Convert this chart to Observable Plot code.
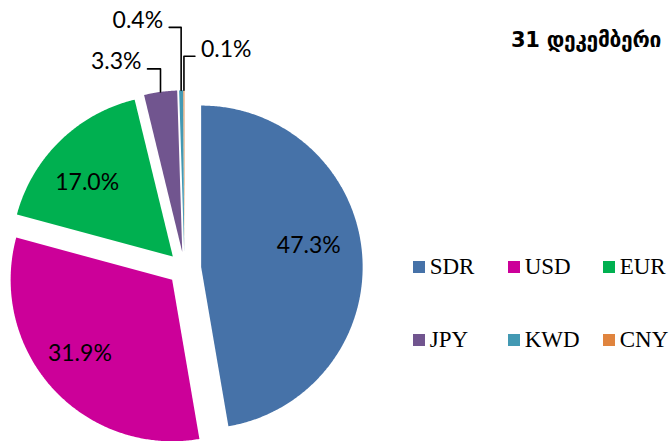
<!DOCTYPE html>
<html>
<head>
<meta charset="utf-8">
<script src="https://cdn.jsdelivr.net/npm/d3@7"></script>
<script src="https://cdn.jsdelivr.net/npm/@observablehq/plot@0.6"></script>
<style>
  html, body { margin: 0; padding: 0; background: #ffffff; }
  #wrap { position: relative; width: 670px; height: 441px; overflow: hidden; }
  #chart svg { display: block; }
  #title { position: absolute; right: 9px; top: 30px; font-family: "DejaVu Sans", sans-serif; font-weight: bold; font-size: 21px; letter-spacing: -0.3px; color: #000; white-space: nowrap; line-height: 1; }
  .lg { position: absolute; display: flex; align-items: center; font-family: "Liberation Serif", serif; font-size: 23px; color: #000; white-space: nowrap; }
  .lg span.sw { display: inline-block; width: 12px; height: 12px; margin-right: 5px; }
</style>
</head>
<body>
<div id="wrap">
  <div id="chart"></div>
  <div id="title"></div>
  <div id="legend"></div>
</div>
<script>
// ---- data ----
const names  = ["SDR", "USD", "EUR", "JPY", "KWD", "CNY"];
const shares = [47.3, 31.9, 17.0, 3.3, 0.4, 0.1];
const colors = ["#4672A8", "#CC0099", "#00B050", "#71558F", "#4399B3", "#E0843E"];
const title  = "31 დეკემბერი";

// ---- layout ----
const W = 670, H = 441;
const CX = 184, CY = 268, R = 161.5, EXPLODE = 16.7;
// inside labels: [angle nudge (deg), radius fraction]
const insideLayout = { SDR: [-6.5, 0.68], USD: [3.8, 0.73], EUR: [-5, 0.70] };
// outside labels: rise of the leader above the slice edge, horizontal run, side
const outsideLayout = {
  JPY: { rise: 23, run: 13, side: -1 },
  KWD: { rise: 63, run: 12, side: -1 },
  CNY: { rise: 34, run: 11, side: 1 }
};

const total = d3.sum(shares);
const rad = (deg) => deg * Math.PI / 180;
const pt = (c, r, a) => ({ x: c.x + r * Math.sin(a), y: c.y - r * Math.cos(a) });

let acc = 0;
const slices = names.map((name, i) => {
  const a0 = acc / total * 2 * Math.PI;
  acc += shares[i];
  const a1 = acc / total * 2 * Math.PI;
  const mid = (a0 + a1) / 2;
  const c = pt({ x: CX, y: CY }, EXPLODE, mid);
  return { name, value: shares[i], a0, a1, mid, c };
});

const slicePts = [];
for (const s of slices) {
  slicePts.push({ name: s.name, x: s.c.x, y: s.c.y });
  const n = Math.max(2, Math.ceil((s.a1 - s.a0) / rad(0.5)));
  for (let k = 0; k <= n; k++) {
    const a = s.a0 + (s.a1 - s.a0) * k / n;
    const p = pt(s.c, R, a);
    slicePts.push({ name: s.name, x: p.x, y: p.y });
  }
}

const fmt = (v) => v.toFixed(1) + "%";

const inside = slices.filter(s => insideLayout[s.name]).map(s => {
  const [da, rf] = insideLayout[s.name];
  const p = pt(s.c, R * rf, s.mid + rad(da));
  return { name: s.name, x: p.x, y: p.y, text: fmt(s.value) };
});

const leaders = [];
const outside = [];
for (const s of slices) {
  const o = outsideLayout[s.name];
  if (!o) continue;
  const e = pt(s.c, R, s.mid);
  const elbow = { x: e.x, y: e.y - o.rise };
  const end = { x: e.x + o.side * o.run, y: elbow.y };
  leaders.push({ name: s.name, x: e.x, y: e.y }, { name: s.name, ...elbow }, { name: s.name, ...end });
  outside.push({ name: s.name, side: o.side, x: end.x + o.side * 6, y: end.y - 7, text: fmt(s.value) });
}

const labelFont = "Lato, 'Open Sans', sans-serif";

const chart = Plot.plot({
  width: W,
  height: H,
  margin: 0,
  x: { domain: [0, W], range: [0, W], axis: null },
  y: { domain: [0, H], range: [0, H], axis: null },
  color: { domain: names, range: colors },
  style: { background: "transparent", fontFamily: labelFont },
  marks: [
    Plot.line(slicePts, { x: "x", y: "y", z: "name", fill: "name", stroke: "none", curve: "linear-closed" }),
    Plot.line(leaders, { x: "x", y: "y", z: "name", stroke: "#000", strokeWidth: 1.6 }),
    Plot.text(inside, { x: "x", y: "y", text: "text", fontSize: 23, fill: "#000", fontFamily: labelFont }),
    Plot.text(outside.filter(d => d.side < 0), { x: "x", y: "y", text: "text", textAnchor: "end", fontSize: 23, fill: "#000", fontFamily: labelFont }),
    Plot.text(outside.filter(d => d.side > 0), { x: "x", y: "y", text: "text", textAnchor: "start", fontSize: 23, fill: "#000", fontFamily: labelFont })
  ]
});
document.getElementById("chart").appendChild(chart);

document.getElementById("title").textContent = title;

// legend: 3 columns x 2 rows
const legend = document.getElementById("legend");
const LX = 412.7, LY = 254, COLW = 95, ROWH = 73, ITEMH = 26;
names.forEach((name, i) => {
  const col = i % 3, row = Math.floor(i / 3);
  const item = document.createElement("div");
  item.className = "lg";
  item.style.left = (LX + col * COLW) + "px";
  item.style.top = (LY + row * ROWH) + "px";
  item.style.height = ITEMH + "px";
  const sw = document.createElement("span");
  sw.className = "sw";
  sw.style.background = colors[i];
  const tx = document.createElement("span");
  tx.textContent = name;
  item.appendChild(sw);
  item.appendChild(tx);
  legend.appendChild(item);
});
</script>
</body>
</html>
